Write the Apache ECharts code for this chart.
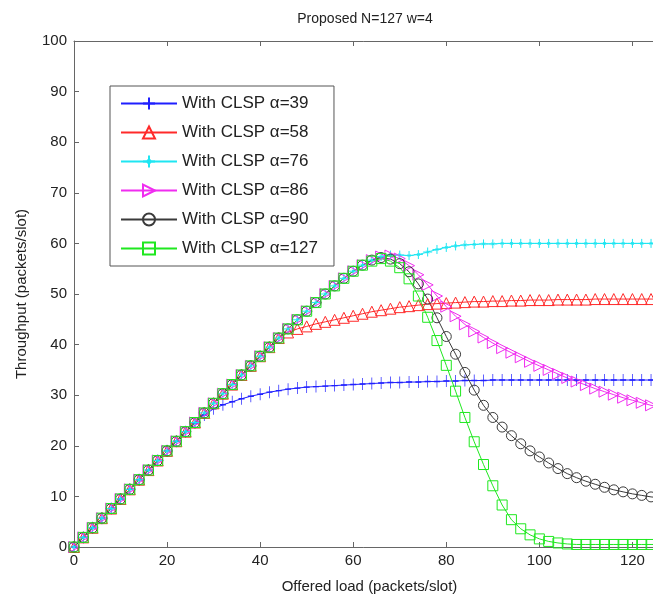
<!DOCTYPE html>
<html>
<head>
<meta charset="utf-8">
<script src="https://cdn.jsdelivr.net/npm/echarts@6/dist/echarts.min.js"></script>
<style>
  html, body { margin: 0; padding: 0; background: #fff; }
  #chart { width: 653px; height: 602px; }
</style>
</head>
<body>
<div id="chart"></div>
<script>
// offered load, step 2
var loads = [0,2,4,6,8,10,12,14,16,18,20,22,24,26,28,30,32,34,36,38,40,42,44,46,48,50,52,54,56,58,60,62,
  64,66,68,70,72,74,76,78,80,82,84,86,88,90,92,94,96,98,100,102,104,106,108,110,112,114,116,118,120,122,124,126];

var alpha39 = [0,1.9,3.8,5.7,7.6,9.5,11.4,13.3,15.2,17.1,19.0,20.9,22.8,24.5,26.1,27.3,28.1,28.7,29.3,29.8,30.2,30.6,30.9,31.2,
  31.4,31.6,31.7,31.8,31.9,32.0,32.1,32.2,32.3,32.4,32.5,32.5,32.6,32.6,32.7,32.7,32.8,32.8,32.9,32.9,32.9,33.0,
  33.0,33.0,33.0,33.0,33.0,33.0,33.0,33.0,33.0,33.0,33.0,33.0,33.0,33.0,33.0,33.0,33.0,33.0];

var alpha58 = [0,1.9,3.8,5.7,7.6,9.5,11.4,13.3,15.2,17.1,19.0,20.9,22.8,24.6,26.5,28.4,30.3,32.1,34.0,35.8,37.7,39.5,41.3,
  42.4,43.1,43.6,44.1,44.5,44.9,45.3,45.7,46.1,46.5,46.8,47.1,47.4,47.6,47.8,48.0,48.1,48.2,48.3,48.4,48.5,48.5,
  48.6,48.6,48.7,48.7,48.8,48.8,48.8,48.9,48.9,48.9,48.9,49.0,49.0,49.0,49.0,49.0,49.0,49.0,49.0];

var alpha76 = [0,1.9,3.8,5.7,7.6,9.5,11.4,13.3,15.2,17.1,19.0,20.9,22.8,24.6,26.5,28.4,30.3,32.1,34.0,35.8,37.7,39.5,41.3,
  43.1,44.9,46.6,48.3,50.0,51.6,53.1,54.5,55.7,56.7,57.4,57.7,
  57.7,57.6,57.8,58.3,58.8,59.2,59.5,59.7,59.8,59.9,59.9,
  60.0,60.0,60.0,60.0,60.0,60.0,60.0,60.0,60.0,60.0,60.0,60.0,60.0,60.0,60.0,60.0,60.0,60.0];

var alpha86 = [0,1.9,3.8,5.7,7.6,9.5,11.4,13.3,15.2,17.1,19.0,20.9,22.8,24.6,26.5,28.4,30.3,32.1,34.0,35.8,37.7,39.5,41.3,
  43.1,44.9,46.6,48.3,50.0,51.6,53.1,54.5,55.7,56.7,57.4,
  57.6,57.0,55.6,53.8,51.8,49.6,47.5,45.6,44.0,42.6,41.4,40.3,39.3,38.4,37.5,36.6,35.8,35.0,34.2,33.4,
  32.7,32.0,31.3,30.7,30.1,29.5,29.0,28.5,28.0,27.6];

var alpha90 = [0,1.9,3.8,5.7,7.6,9.5,11.4,13.3,15.2,17.1,19.0,20.9,22.8,24.6,26.5,28.4,30.3,32.1,34.0,35.8,37.7,39.5,41.3,
  43.1,44.9,46.6,48.3,50.0,51.6,53.1,54.5,55.7,56.7,
  57.2,56.9,56.0,54.4,52.0,49.0,45.3,41.6,38.1,34.5,31.0,28.0,25.6,23.7,22.0,20.4,19.0,17.8,16.6,15.5,14.5,
  13.7,13.0,12.4,11.8,11.3,10.9,10.5,10.2,9.9,9.7];

var alpha127 = [0,1.9,3.8,5.7,7.6,9.5,11.4,13.3,15.2,17.1,19.0,20.9,22.8,24.6,26.5,28.4,30.3,32.1,34.0,35.8,37.7,39.5,41.3,
  43.1,44.9,46.6,48.3,50.0,51.6,53.1,54.5,55.7,
  56.5,57.0,56.5,55.2,53.0,49.6,45.4,40.8,35.9,30.8,25.6,20.8,16.3,12.1,8.3,5.4,3.6,2.4,1.6,1.1,0.8,0.6,
  0.5,0.5,0.5,0.5,0.5,0.5,0.5,0.5,0.5,0.5];

var names = ['With CLSP α=39','With CLSP α=58','With CLSP α=76','With CLSP α=86','With CLSP α=90','With CLSP α=127'];
var colors = ['#1f1fff','#ff2a2a','#1fe6f2','#f02cf0','#3a3a3a','#1fe81f'];
var values = [alpha39, alpha58, alpha76, alpha86, alpha90, alpha127];

var plus = 'path://M5,0L5,10M0,5L10,5';
var star = 'path://M5,0L5,10M0,5L10,5M3.5,3.5L6.5,6.5M6.5,3.5L3.5,6.5';
var marks = [plus, 'triangle', star, 'triangle', 'circle', 'rect'];
var sizes = [[6, 12], 11, 9, 11, 10, 10];
var rots = [0, 0, 0, -90, 0, 0];

var font = '"Liberation Sans", Arial, sans-serif';

function pairs(ys) {
  var out = [];
  for (var i = 0; i < ys.length; i++) out.push([loads[i], ys[i]]);
  return out;
}

var series = [];
for (var k = 0; k < names.length; k++) {
  var isPath = marks[k].indexOf('path://') === 0;
  series.push({
    name: names[k],
    type: 'line',
    xAxisIndex: 0,
    data: pairs(values[k]),
    symbol: marks[k],
    symbolSize: sizes[k],
    symbolRotate: rots[k],
    showAllSymbol: true,
    clip: true,
    lineStyle: { color: colors[k], width: 1 },
    itemStyle: {
      color: isPath ? colors[k] : 'rgba(255,255,255,0)',
      borderColor: colors[k],
      borderWidth: 1
    },
    emphasis: { disabled: true }
  });
}

var chart = echarts.init(document.getElementById('chart'));
chart.setOption({
  animation: false,
  backgroundColor: '#fff',
  title: {
    text: 'Proposed N=127 w=4',
    left: 360,
    top: 7,
    textAlign: 'center',
    textStyle: { fontFamily: font, fontSize: 14, fontWeight: 'normal', color: '#222' }
  },
  legend: {
    orient: 'vertical',
    left: 110,
    top: 86,
    padding: [9, 16, 9, 10],
    itemGap: 12,
    itemWidth: 56,
    itemHeight: 15,
    borderColor: '#555',
    borderWidth: 1,
    backgroundColor: '#fff',
    textStyle: { fontFamily: font, fontSize: 17, lineHeight: 15, color: '#222' },
    data: names
  },
  grid: { left: 74, right: -12, top: 41, bottom: 55, outerBoundsMode: 'none', containLabel: false },
  xAxis: [{
    type: 'value',
    min: 0, max: 127, interval: 20,
    name: 'Offered load (packets/slot)',
    nameLocation: 'middle',
    nameGap: 32,
    nameTextStyle: { fontFamily: font, fontSize: 15, color: '#222' },
    axisLine: { lineStyle: { color: '#666' } },
    axisTick: { inside: true, length: 5, lineStyle: { color: '#666' } },
    axisLabel: { fontFamily: font, fontSize: 15, color: '#222', margin: 6, showMaxLabel: false },
    splitLine: { show: false }
  }, {
    type: 'value',
    position: 'top',
    min: 0, max: 127, interval: 20,
    axisLine: { lineStyle: { color: '#666' } },
    axisTick: { inside: true, length: 5, lineStyle: { color: '#666' } },
    axisLabel: { show: false },
    splitLine: { show: false }
  }],
  yAxis: {
    type: 'value',
    min: 0, max: 100, interval: 10,
    name: 'Throughput (packets/slot)',
    nameLocation: 'middle',
    nameGap: 45,
    nameTextStyle: { fontFamily: font, fontSize: 15, color: '#222' },
    axisLine: { show: true, lineStyle: { color: '#666' } },
    axisTick: { show: true, inside: true, length: 5, lineStyle: { color: '#666' } },
    axisLabel: { fontFamily: font, fontSize: 15, color: '#222', margin: 7 },
    splitLine: { show: false }
  },
  series: series
});
</script>
</body>
</html>
